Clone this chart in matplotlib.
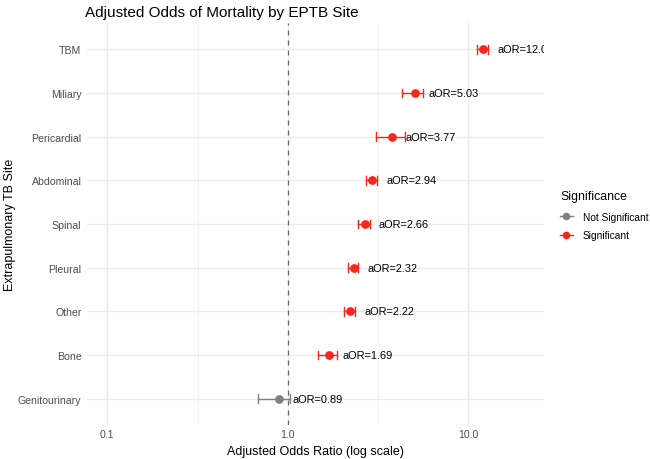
import matplotlib
matplotlib.use("Agg")
import matplotlib.pyplot as plt
from matplotlib.lines import Line2D
import numpy as np

plt.rcParams['font.family'] = ['Liberation Sans', 'DejaVu Sans']

sites = ["Genitourinary", "Bone", "Other", "Pleural", "Spinal", "Abdominal",
         "Pericardial", "Miliary", "TBM"]
aor = [0.89, 1.69, 2.22, 2.32, 2.66, 2.94, 3.77, 5.03, 12.05]
ci_low = [0.685, 1.46, 2.05, 2.14, 2.43, 2.70, 3.06, 4.30, 11.1]
ci_high = [1.03, 1.88, 2.35, 2.43, 2.84, 3.10, 4.43, 5.62, 12.9]
significant = [False, True, True, True, True, True, True, True, True]
labels = ["aOR=0.89", "aOR=1.69", "aOR=2.22", "aOR=2.32", "aOR=2.66",
          "aOR=2.94", "aOR=3.77", "aOR=5.03", "aOR=12.05"]
x_ticks = [0.1, 1.0, 10.0]
x_tick_labels = ["0.1", "1.0", "10.0"]

RED = "#F8271B"
GREY = "#808080"

fig = plt.figure(figsize=(6.5, 4.6), dpi=100)
ax = fig.add_axes([87/650, 1 - 426/460, (544-87)/650, (426-24)/460])

ax.set_xscale('log')
ax.set_xlim(10**-1.112, 10**1.418)
ax.set_ylim(0.4, 9.6)

# grid
for v in x_ticks:
    ax.axvline(v, color="#EBEBEB", lw=1.0, zorder=0)
for v in [10**-0.5, 10**0.5]:
    ax.axvline(v, color="#EBEBEB", lw=0.5, zorder=0)
ys = np.arange(1, len(sites) + 1)
for y in ys:
    ax.axhline(y, color="#EBEBEB", lw=1.0, zorder=0)

ax.axvline(1.0, color="#666666", lw=0.9, ls=(0, (4, 4)), zorder=1)

cap = 0.1
for y, m, lo, hi, sig, lab in zip(ys, aor, ci_low, ci_high, significant, labels):
    c = RED if sig else GREY
    ax.plot([lo, hi], [y, y], color=c, lw=1.0, zorder=2)
    ax.plot([lo, lo], [y - cap, y + cap], color=c, lw=1.0, zorder=2)
    ax.plot([hi, hi], [y - cap, y + cap], color=c, lw=1.0, zorder=2)
    ax.plot([m], [y], 'o', color=c, ms=6.3, zorder=3, mew=0)
    t = ax.annotate(lab, xy=(m, y), xytext=(10, 0), textcoords='offset points',
                    ha='left', va='center', fontsize=7.9, color='black',
                    annotation_clip=False)
    t.set_clip_on(True)
    t.set_clip_path(ax.patch)

ax.set_yticks(ys)
ax.set_yticklabels(sites)
ax.set_xticks(x_ticks)
ax.set_xticklabels(x_tick_labels)
ax.xaxis.set_minor_locator(matplotlib.ticker.NullLocator())
ax.tick_params(axis='both', length=0, labelsize=7.6, labelcolor="#4D4D4D", pad=3)
ax.tick_params(axis='y', pad=4)
for s in ax.spines.values():
    s.set_visible(False)

ax.set_xlabel("Adjusted Odds Ratio (log scale)", fontsize=9, labelpad=4)
ax.set_ylabel("Extrapulmonary TB Site", fontsize=9)
ax.yaxis.set_label_coords((16 - 87) / 457, 0.5)
ax.set_title("Adjusted Odds of Mortality by EPTB Site", fontsize=11, loc='left',
             x=-0.005, pad=5)

handles = [Line2D([0], [0], color=GREY, marker='o', ms=5.5, lw=1.0, mew=0),
           Line2D([0], [0], color=RED, marker='o', ms=5.5, lw=1.0, mew=0)]
leg = fig.legend(handles, ["Not Significant", "Significant"], title="Significance",
                 loc='upper left', bbox_to_anchor=(560/650, 1 - 191/460),
                 frameon=False, fontsize=7.3, title_fontsize=8.8,
                 handlelength=1.25, handletextpad=1.0, labelspacing=0.85,
                 borderaxespad=0, borderpad=0)
leg._legend_box.align = "left"
leg._legend_box.sep = 7

fig.savefig("out.png", dpi=100)
